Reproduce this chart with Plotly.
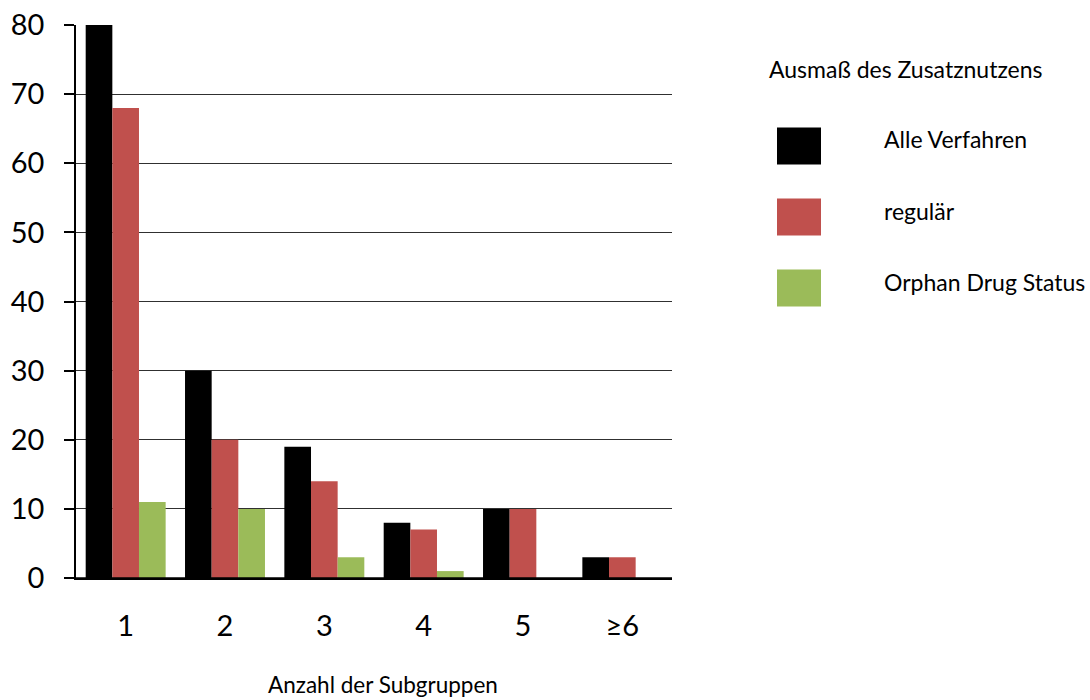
import plotly.graph_objects as go

categories = ["1", "2", "3", "4", "5", "≥6"]
alle_verfahren = [80, 30, 19, 8, 10, 3]
regulaer = [68, 20, 14, 7, 10, 3]
orphan = [11, 10, 3, 1, 0, 0]

series_names = ["Alle Verfahren", "regulär", "Orphan Drug Status"]
series_values = [alle_verfahren, regulaer, orphan]
series_colors = ["#000000", "#C0504D", "#9BBB59"]

legend_title = "Ausmaß des Zusatznutzens"
x_title = "Anzahl der Subgruppen"

W, H = 1090, 700
L, R, T, B = 76, 418, 25, 122
pw, ph = W - L - R, H - T - B

def px_x(x):
    return (x - L) / pw

def px_y(y):
    return (H - B - y) / ph

FONT = "Lato, 'Open Sans', sans-serif"

fig = go.Figure()
for name, vals, col in zip(series_names, series_values, series_colors):
    fig.add_trace(go.Bar(x=categories, y=vals, name=name, marker_color=col,
                         marker_line_width=0, showlegend=False))

fig.update_layout(
    width=W, height=H, autosize=False,
    margin=dict(l=L, r=R, t=T, b=B, pad=0, autoexpand=False),
    paper_bgcolor="white", plot_bgcolor="white",
    barmode="group", bargap=0.195, bargroupgap=0,
    font=dict(family=FONT, color="#000000"),
)
fig.update_yaxes(
    range=[0, 80], dtick=10, tick0=0, automargin=False,
    showgrid=True, gridcolor="#303030", gridwidth=1,
    showline=True, linecolor="#000000", linewidth=1.5,
    ticks="outside", ticklen=10, tickcolor="#000000", tickwidth=1.5,
    tickfont=dict(size=29, family=FONT), ticklabelstandoff=14,
    zeroline=False,
)
fig.update_xaxes(
    showline=True, linecolor="#000000", linewidth=1.5, automargin=False,
    ticks="", tickfont=dict(size=29, family=FONT), ticklabelstandoff=21,
)

# x-axis title
fig.add_annotation(text=x_title, xref="paper", yref="paper",
                   x=px_x(383), y=px_y(684), xanchor="center", yanchor="middle",
                   showarrow=False, font=dict(size=22.5, family=FONT))

# zero line extending left under tick
fig.add_shape(type="line", xref="paper", yref="y", x0=px_x(66), x1=1, y0=0, y1=0,
              line=dict(color="#000000", width=1.5))

# custom legend
fig.add_annotation(text=legend_title, xref="paper", yref="paper",
                   x=px_x(767), y=px_y(69), xanchor="left", yanchor="middle",
                   showarrow=False, font=dict(size=23, family=FONT))
item_centers = [146, 217, 288]
for name, col, cy in zip(series_names, series_colors, item_centers):
    fig.add_shape(type="rect", xref="paper", yref="paper",
                  x0=px_x(777), x1=px_x(821), y0=px_y(cy - 18.5), y1=px_y(cy + 18.5),
                  fillcolor=col, line=dict(width=0))
    fig.add_annotation(text=name, xref="paper", yref="paper",
                       x=px_x(882), y=px_y(cy - 6.5), xanchor="left", yanchor="middle",
                       showarrow=False, font=dict(size=23, family=FONT))

fig.write_html("out.html")
